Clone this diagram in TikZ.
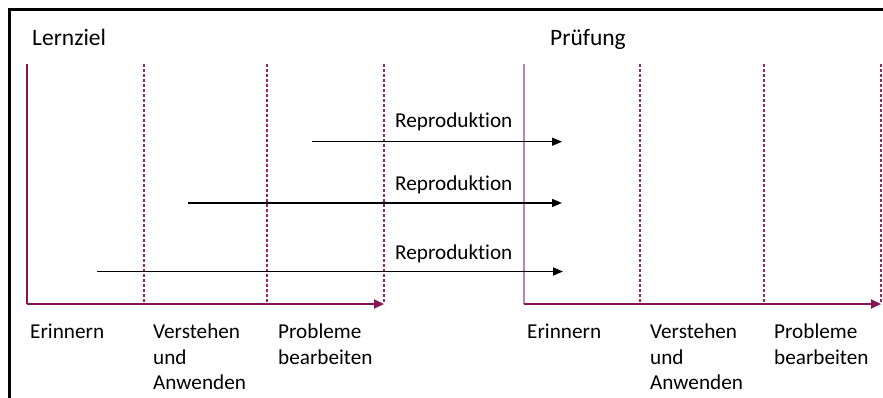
\documentclass[tikz,border=0pt]{standalone}
\usepackage{fontspec}
\setmainfont[Ligatures=NoCommon]{Carlito}
\usetikzlibrary{arrows.meta}
\definecolor{plum}{RGB}{135,20,85}
\definecolor{plumdash}{RGB}{150,40,100}
\definecolor{pinkax}{RGB}{200,130,175}
\begin{document}
\begin{tikzpicture}[x=1pt,y=-1pt,
  lbl/.style={inner sep=0pt,anchor=base west,font=\fontsize{21.2}{25.5}\selectfont},
  ttl/.style={inner sep=0pt,anchor=base west,font=\fontsize{23.5}{28}\selectfont},
  axis/.style={draw=plum,line width=2pt,-{Triangle[length=10pt,width=9pt]}},
  solidv/.style={draw=plum,line width=1.6pt},
  solidvr/.style={draw=pinkax,line width=2pt},
  dashv/.style={draw=plumdash,line width=1.3pt,dash pattern=on 3pt off 2pt},
  repro/.style={draw=black,line width=1.5pt,-{Triangle[length=10pt,width=8pt]}}]
\useasboundingbox (0,0) rectangle (883,398);
% frame
\coordinate (fl) at (9,398); \coordinate (fc) at (9,10); \coordinate (fr) at (883,10);
\draw[line width=3pt] (fl) -- (fc) -- (fr);
% titles
\node[ttl] (lz) at (32,46) {Lernziel};
\node[ttl] (pr) at (550,46) {Prüfung};
% left axis
\coordinate (l0t) at (27,64); \coordinate (l0) at (27,304);
\coordinate (l1t) at (144,64); \coordinate (l1) at (144,304);
\coordinate (l2t) at (267,64); \coordinate (l2) at (267,304);
\coordinate (l3t) at (384,64); \coordinate (l3) at (384,304);
\draw[dashv] (l1t) -- (l1);
\draw[dashv] (l2t) -- (l2);
\draw[dashv] (l3t) -- (l3);
\draw[solidv] (l0t) -- (l0);
\draw[axis] (l0) -- (l3);
% right axis
\coordinate (r0t) at (523.5,64); \coordinate (r0) at (523.5,304);
\coordinate (r1t) at (640,64); \coordinate (r1) at (640,304);
\coordinate (r2t) at (764,64); \coordinate (r2) at (764,304);
\coordinate (r3t) at (881,64); \coordinate (r3) at (881,304);
\draw[dashv] (r1t) -- (r1);
\draw[dashv] (r2t) -- (r2);
\draw[dashv] (r3t) -- (r3);
\draw[solidvr] (r0t) -- (r0);
\draw[axis] (r0) -- (r3);
% reproduction arrows
\coordinate (a1s) at (312,141.7); \coordinate (a1e) at (562,141.7);
\coordinate (a2s) at (188,203); \coordinate (a2e) at (562,203);
\coordinate (a3s) at (97,271.5); \coordinate (a3e) at (563,271.5);
\draw[repro] (a1s) -- (a1e);
\draw[repro] (a2s) -- (a2e);
\draw[repro] (a3s) -- (a3e);
\node[lbl] (t1) at (395,128) {Reproduktion};
\node[lbl] (t2) at (395,190) {Reproduktion};
\node[lbl] (t3) at (395,259) {Reproduktion};
% left labels
\node[lbl] (le) at (30,338) {Erinnern};
\node[lbl] (lv1) at (153,338) {Verstehen};
\node[lbl] (lv2) at (153,364) {und};
\node[lbl] (lv3) at (153,389.5) {Anwenden};
\node[lbl] (lp1) at (278,338) {Probleme};
\node[lbl] (lp2) at (278,364) {bearbeiten};
% right labels
\node[lbl] (re) at (527,338) {Erinnern};
\node[lbl] (rv1) at (650,338) {Verstehen};
\node[lbl] (rv2) at (650,364) {und};
\node[lbl] (rv3) at (650,389.5) {Anwenden};
\node[lbl] (rp1) at (774,338) {Probleme};
\node[lbl] (rp2) at (774,364) {bearbeiten};
\end{tikzpicture}
\end{document}
